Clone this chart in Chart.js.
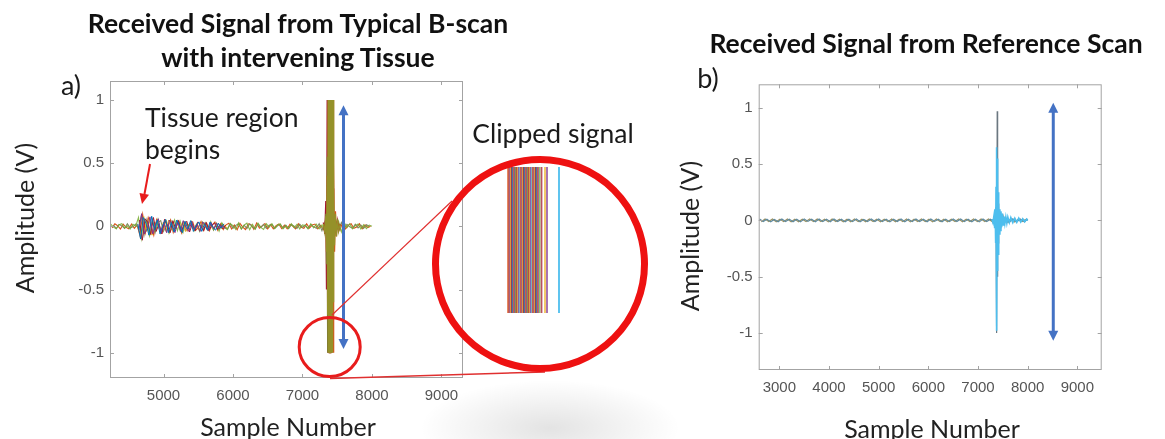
<!DOCTYPE html>
<html>
<head>
<meta charset="utf-8">
<script src="https://cdn.jsdelivr.net/npm/chart.js@4.4.1/dist/chart.umd.min.js"></script>
<style>
  html, body { margin: 0; padding: 0; background: #fff; }
  body { width: 1165px; height: 439px; position: relative; overflow: hidden; font-family: Lato, "Open Sans", sans-serif; }
  canvas { position: absolute; }
  .t { position: absolute; white-space: nowrap; color: #1a1a1a; transform: translate(-50%, -50%); line-height: 1; }
  .l { position: absolute; white-space: nowrap; color: #1a1a1a; line-height: 1; transform: translateY(-50%); }
  .title { font-weight: 700; font-size: 26.5px; color: #111; }
  .ax { font-size: 25px; color: #222; }
  .rot { transform: translate(-50%, -50%) rotate(-90deg); }
  #shade { position: absolute; left: 400px; top: 370px; width: 300px; height: 110px;
           background: radial-gradient(ellipse 130px 48px at 150px 58px, rgba(0,0,0,0.11), rgba(0,0,0,0) 100%); }
  svg { position: absolute; left: 0; top: 0; }
</style>
</head>
<body>
<div id="shade"></div>
<canvas id="scanA" width="480" height="439" style="left:0;top:0"></canvas>
<canvas id="scanB" width="515" height="439" style="left:650px;top:0"></canvas>
<canvas id="clipView" width="80" height="170" style="left:495px;top:160px"></canvas>

<svg width="1165" height="439" viewBox="0 0 1165 439">
  <!-- magnifier: small ring on the clipped burst, lines to the enlarged view -->
  <line x1="332" y1="315" x2="452" y2="201" stroke="#e03030" stroke-width="1.2"/>
  <line x1="330" y1="378.5" x2="545" y2="372" stroke="#e03030" stroke-width="1.5"/>
  <ellipse cx="329.7" cy="347" rx="30.5" ry="29.5" fill="none" stroke="#e81c1c" stroke-width="3"/>
  <circle cx="540" cy="264" r="104.5" fill="none" stroke="#ee1111" stroke-width="7"/>
  <!-- pointer to the start of the tissue echoes -->
  <line x1="150" y1="164" x2="144.5" y2="194" stroke="#e81c1c" stroke-width="2"/>
  <polygon points="142,204 139.5,193 149,194.8" fill="#e81c1c"/>
</svg>

<div class="t title" style="left:298px;top:23px">Received Signal from Typical B-scan</div>
<div class="t title" style="left:298px;top:57px">with intervening Tissue</div>
<div class="t title" style="left:926px;top:43px">Received Signal from Reference Scan</div>
<div class="t" style="left:71px;top:84px;font-size:27px">a)</div>
<div class="t" style="left:708px;top:77px;font-size:27px">b)</div>
<div class="t ax rot" style="left:24px;top:218px">Amplitude (V)</div>
<div class="t ax" style="left:288px;top:426px">Sample Number</div>
<div class="t ax rot" style="left:689px;top:236px">Amplitude (V)</div>
<div class="t ax" style="left:932px;top:428px">Sample Number</div>
<div class="l" style="left:145px;top:117px;font-size:26.5px">Tissue region</div>
<div class="l" style="left:145px;top:149px;font-size:26.5px">begins</div>
<div class="t" style="left:553px;top:133px;font-size:26.5px">Clipped signal</div>

<script>
// ---------- axis ticks ----------
const ampTicks = [-1, -0.5, 0, 0.5, 1];
const sampleTicksA = [5000, 6000, 7000, 8000, 9000];
const sampleTicksB = [3000, 4000, 5000, 6000, 7000, 8000, 9000];

// ---------- (a) B-scan with tissue: A-lines on a regular sample grid ----------
const tissueGridStep = 40;
const greenStart = 4240;
const greenTrace = [
  0.018,-0.006,-0.02,0.013,0.021,-0.015,0.004,-0.022,0.016,0.002,
  0.07,-0.095,
  0.06,0.02,-0.075,0.05,
  -0.03,0.055,-0.05,0.01,0.045,-0.055,-0.02,0.05,-0.035,0.04,-0.05,
  0.03,-0.01,0.038,-0.036,0.012,-0.04,0.035,0.005,-0.03,0.036,-0.025,0.02,-0.038,
  0.027,-0.01,-0.026,0.022,0.005,-0.024,0.027,-0.02,0.01,0.025,-0.026,0.015,-0.022,0.026,-0.008,-0.024,0.02,
  -0.006,0.02,-0.018,0.01,0.019,-0.02,0.004,-0.017,0.02,-0.01,0.016,-0.02,0.012,0.004,-0.019,0.02,-0.012,0.017,-0.02,0.01,-0.03,
  0.05,
  -0.08,0.07,-0.06,
  0.04,-0.045,0.03,
  -0.01,0.021,-0.02,0.006,0.019,-0.02,0.012,-0.018,0.01,0.0
];
const orangeStart = 4260;
const orangeTrace = [
  -0.012,0.02,0.005,-0.021,0.017,-0.008,-0.02,0.019,-0.015,0.01,
  -0.07,0.095,
  -0.05,0.07,0.01,-0.07,
  0.052,-0.02,-0.05,0.045,-0.01,0.05,-0.048,0.02,0.045,-0.05,0.03,
  -0.035,0.02,0.036,-0.032,-0.01,0.038,-0.033,0.025,-0.036,0.01,0.034,-0.03,0.02,
  -0.026,0.012,0.025,-0.02,0.01,-0.027,0.024,-0.006,-0.025,0.02,0.012,-0.024,0.026,-0.015,0.004,0.022,-0.02,
  0.015,-0.02,0.006,0.018,-0.017,0.01,-0.02,0.017,0.002,-0.019,0.02,-0.008,-0.016,0.02,-0.014,0.01,0.018,-0.02,0.008,-0.025,0.04,
  -0.09,0.07,-0.065,
  0.05,-0.03,0.035,
  -0.02,0.01,0.02,-0.016,-0.006,0.02,-0.019,0.012,-0.01,0.0
];
const greyStart = 4280;
const greyTrace = [
  0.01,-0.018,0.015,0.004,-0.016,0.02,-0.012,-0.004,0.018,-0.017,
  0.08,-0.07,0.05,-0.06,
  0.04,-0.05,0.03,0.045,-0.04,0.012,-0.045,0.04,-0.02,0.042,-0.035,
  0.03,-0.032,0.008,0.03,-0.028,0.02,-0.032,0.006,0.03,-0.028,0.015,-0.03,0.025,
  -0.02,0.022,-0.005,-0.02,0.021,-0.016,0.008,0.02,-0.021,0.01,-0.018,0.02,-0.004,-0.02,0.018,-0.01,0.015,
  -0.016,0.008,0.015,-0.017,0.004,0.016,-0.015,0.01,-0.017,0.014,0.002,-0.016,0.017,-0.009,0.012,-0.017,0.015,-0.004,-0.015,0.02,-0.035,
  0.03,-0.06,0.07,-0.05,
  0.04,-0.035,0.03,
  -0.015,0.016,-0.004,-0.015,0.017,-0.012,0.01,-0.016,0.012,0
];
// echoes from the tissue layers, 4600-5900
const blueStart = 4630;
const blueTrace = [0.02,-0.1,0.07,0.02,-0.07,0.08,-0.03,0.05,-0.06,0.01,0.055,-0.05,0.03,-0.045,0.05,0.01,
  -0.05,0.04,-0.02,0.045,-0.04,0.01,0.035,-0.04,0.02,-0.03,0.035,-0.01,-0.03,0.025,-0.015,0.02];
const purpleStart = 4645;
const purpleTrace = [-0.03,0.1,-0.06,-0.02,0.075,-0.06,0.02,0.06,-0.055,0.03,-0.05,0.05,0.01,-0.05,0.04,-0.035,
  0.045,-0.01,-0.04,0.04,-0.03,0.015,-0.04,0.035,0.005,-0.035,0.03,-0.02,0.025,-0.02,0.01,-0.018];
const redStart = 4655;
const redTrace = [0.05,-0.11,0.06,0.03,-0.065,0.07,-0.04,0.02,-0.06,0.055,0.01,-0.05,0.045,-0.02,0.045,-0.045,
  0.01,0.04,-0.045,0.02,-0.035,0.035,0.005,-0.035,0.03,-0.03,0.01,0.025,-0.025,0.015,-0.02,0.01];
const yellowStart = 4675;
const yellowTrace = [-0.06,0.08,-0.04,0.06,-0.07,0.02,0.05,-0.055,0.03,-0.04,0.05,0.005,-0.045,0.04,-0.02,0.035,
  -0.04,0.01,0.035,-0.035,0.02,-0.03,0.028,0.004,-0.028,0.025,-0.02,0.01,0.02,-0.018,0.012,-0.015];

// reflector echo, saturating at +/-1 V
const burstSamples = [7300,7320,7335,7345,7355,7362,7368,7374,7380,7386,7392,7398,7404,7410,7416,7422,7428,7434,7440,
  7446,7452,7462,7475,7490,7505,7520,7540];
const burstOlive  = [0.02,-0.05,0.1,-0.3,0.55,-1,1,-1,1,-1,1,-1,1,-1,1,-1,1,-1,1,-0.6,0.3,-0.15,0.1,-0.08,0.06,-0.04,0.02];
const burstOrange = [0.02,-0.04,0.08,-0.2,0.4,-0.7,1,-1,1,-1,1,-1,1,-1,1,-1,1,-1,1,-1,0.5,-0.2,0.12,-0.08,0.05,-0.035,0.02];
const burstRed    = [0.03,-0.06,0.2,-0.5,1,-1,1,-1,1,-1,1,-1,1,-1,1,-1,0.8,-0.5,0.3,-0.15,0.1,-0.08,0.06,-0.05,0.04,-0.03,0.02];

// ---------- (b) reference scan ----------
const refGridStep = 75;
const refStartA = 2600;
const refNoiseA = [0.012,-0.01,0.011,-0.013,0.009,-0.012,0.013,-0.01,0.011,-0.012,0.01,-0.013,0.012,-0.009,0.011,-0.012,
  0.013,-0.011,0.01,-0.012,0.012,-0.01,0.011,-0.013,0.01,-0.011,0.012,-0.012,0.009,-0.011,0.013,-0.01,0.012,-0.011,
  0.01,-0.013,0.011,-0.01,0.012,-0.012,0.01,-0.011,0.013,-0.01,0.011,-0.012,0.012,-0.009,0.01,-0.012,0.011,-0.011,
  0.013,-0.01,0.012,-0.011,0.01,-0.012,0.011,-0.013,0.012,-0.01,0.011,-0.012,0.015,-0.02,0.025,-0.02,0.015,-0.014,0.012,-0.011,0.01];
const refStartB = 2637;
const refNoiseB = [-0.011,0.012,-0.01,0.013,-0.012,0.01,-0.011,0.012,-0.013,0.01,-0.012,0.011,-0.01,0.013,-0.011,0.012,
  -0.01,0.011,-0.013,0.012,-0.01,0.011,-0.012,0.01,-0.013,0.012,-0.011,0.01,-0.012,0.013,-0.01,0.011,-0.012,0.01,
  -0.011,0.013,-0.012,0.01,-0.011,0.012,-0.013,0.011,-0.01,0.012,-0.011,0.01,-0.013,0.012,-0.011,0.01,-0.012,0.011,
  -0.01,0.013,-0.012,0.011,-0.01,0.012,-0.011,0.013,-0.01,0.012,-0.011,0.014,-0.02,0.022,-0.018,0.015,-0.013,0.011,-0.01,0.009];
const refSpikeSamples = [7280,7300,7320,7335,7345,7355,7362,7368,7374,7380,7386,7392,7398,7404,7410,7416,7422,7430,7440,
  7450,7462,7475,7490,7505,7520,7540,7560,7580,7600,7630,7660,7700,7740,7780,7820,7860,7900,7940,7980,8000];
const refSpikeCyan = [0.01,-0.02,0.04,-0.07,0.1,-0.2,0.3,-0.4,0.65,-0.98,0.55,-0.45,0.35,-0.3,0.25,-0.2,0.15,-0.12,0.1,
  -0.09,0.08,-0.06,0.06,-0.04,0.035,-0.03,0.03,-0.025,0.03,-0.02,0.025,-0.02,0.02,-0.018,0.02,-0.015,0.015,-0.012,0.012,0];
const refSpikeGray = [0.01,-0.015,0.02,-0.03,0.05,-0.08,0.12,-0.2,0.4,-1.0,0.97,-0.5,0.3,-0.2,0.15,-0.1,0.08,-0.06,0.05,
  -0.04,0.03,-0.03,0.025,-0.02,0.02,-0.015,0.015,-0.012,0.012,-0.01,0.012,-0.01,0.01,-0.01,0.012,-0.01,0.01,-0.01,0.01,0];

// ---------- enlarged view: sample positions where individual A-lines clip at -1 V ----------
const clipSamples = [7362,7364,7366,7368,7370,7372,7374,7376,7378,7380,7382,7384,7386,7388,7390,7392,7394,7396,7398,
  7400,7402,7404,7406,7408,7410,7412,7414,7416,7418,7420,7422,7425,7429,7436,7440,7464];

// ---------- helpers ----------
const C = { blue:'#0072BD', orange:'#D95319', yellow:'#EDB120', purple:'#7E2F8E', green:'#77AC30', cyan:'#4DBEEE', red:'#A2142F' };
const onGrid = (start, step, vals) => vals.map((v, i) => ({ x: start + step * i, y: v }));
const paired = (xs, ys) => ys.map((v, i) => ({ x: xs[i], y: v }));
const trace = (data, color, width) => ({ data, borderColor: color, borderWidth: width || 1, pointRadius: 0, tension: 0, fill: false });
const fade = (hex, a) => 'rgba(' + [1, 3, 5].map(k => parseInt(hex.substr(k, 2), 16)).join(',') + ',' + a + ')';

const tickFont = { family: '"Liberation Sans", Arial, sans-serif', size: 15 };

function frameAndArrow(arrow) {
  return {
    id: 'frameAndArrow',
    afterDatasetsDraw(chart) {
      const { ctx, chartArea: a, scales: { x, y } } = chart;
      ctx.save();
      // box with inward ticks on all four sides
      ctx.strokeStyle = '#a3a3a3';
      ctx.lineWidth = 1;
      ctx.strokeRect(a.left + 0.5, a.top + 0.5, a.right - a.left - 1, a.bottom - a.top - 1);
      ctx.beginPath();
      x.ticks.forEach(t => {
        const p = Math.round(x.getPixelForValue(t.value)) + 0.5;
        ctx.moveTo(p, a.bottom); ctx.lineTo(p, a.bottom - 4);
        ctx.moveTo(p, a.top); ctx.lineTo(p, a.top + 4);
      });
      y.ticks.forEach(t => {
        const p = Math.round(y.getPixelForValue(t.value)) + 0.5;
        ctx.moveTo(a.left, p); ctx.lineTo(a.left + 4, p);
        ctx.moveTo(a.right, p); ctx.lineTo(a.right - 4, p);
      });
      ctx.stroke();
      // double-headed amplitude-span arrow
      const ax = x.getPixelForValue(arrow.sample);
      const yt = y.getPixelForValue(arrow.top);
      const yb = y.getPixelForValue(arrow.bottom);
      ctx.strokeStyle = '#4472C4';
      ctx.fillStyle = '#4472C4';
      ctx.lineWidth = 3;
      ctx.beginPath(); ctx.moveTo(ax, yt + 8); ctx.lineTo(ax, yb - 8); ctx.stroke();
      ctx.beginPath(); ctx.moveTo(ax, yt); ctx.lineTo(ax - 5, yt + 10); ctx.lineTo(ax + 5, yt + 10); ctx.closePath(); ctx.fill();
      ctx.beginPath(); ctx.moveTo(ax, yb); ctx.lineTo(ax - 5, yb - 10); ctx.lineTo(ax + 5, yb - 10); ctx.closePath(); ctx.fill();
      ctx.restore();
    }
  };
}

function makeScales(xr, yr, xTicks, yAxisWidth, xAxisHeight) {
  return {
    x: {
      type: 'linear', min: xr[0], max: xr[1],
      grid: { display: false, drawTicks: false }, border: { display: false },
      ticks: { includeBounds: false, autoSkip: false, maxRotation: 0, padding: 9, color: '#555', font: tickFont,
               callback: v => String(v) },
      afterBuildTicks: s => { s.ticks = xTicks.map(v => ({ value: v })); },
      afterFit: s => { s.height = xAxisHeight; }
    },
    y: {
      type: 'linear', min: yr[0], max: yr[1],
      grid: { display: false, drawTicks: false }, border: { display: false },
      ticks: { includeBounds: false, autoSkip: false, padding: 6, color: '#555', font: tickFont,
               callback: v => String(v) },
      afterBuildTicks: s => { s.ticks = ampTicks.map(v => ({ value: v })); },
      afterFit: s => { s.width = yAxisWidth; }
    }
  };
}

const common = {
  responsive: false, animation: false, events: [],
  plugins: { legend: { display: false }, tooltip: { enabled: false } },
  elements: { line: { borderCapStyle: 'butt', borderJoinStyle: 'miter' } }
};

// (a) B-scan through tissue
new Chart(document.getElementById('scanA'), {
  type: 'line',
  data: { datasets: [
    trace(paired(burstSamples, burstOlive), fade(C.green, 0.7), 1.2),
    trace(paired(burstSamples, burstOrange), C.orange, 1.2),
    trace(paired(burstSamples, burstRed), C.red, 1.2),
    trace(onGrid(blueStart, tissueGridStep, blueTrace), C.blue),
    trace(onGrid(purpleStart, tissueGridStep, purpleTrace), C.purple),
    trace(onGrid(redStart, tissueGridStep, redTrace), C.red),
    trace(onGrid(yellowStart, tissueGridStep, yellowTrace), C.yellow),
    trace(onGrid(greenStart, tissueGridStep, greenTrace), fade(C.green, 0.85), 1.1),
    trace(onGrid(greyStart, tissueGridStep, greyTrace), '#808a60', 1.1),
    trace(onGrid(orangeStart, tissueGridStep, orangeTrace), C.orange, 1.1)
  ]},
  options: Object.assign({}, common, {
    layout: { padding: { left: 0, top: 81, right: 17, bottom: 0 } },
    scales: makeScales([4230, 9310], [-1.2, 1.15], sampleTicksA, 110, 61)
  }),
  plugins: [frameAndArrow({ sample: 7590, top: 0.958, bottom: -0.971 })]
});

// (b) reference scan
new Chart(document.getElementById('scanB'), {
  type: 'line',
  data: { datasets: [
    trace(paired(refSpikeSamples, refSpikeCyan), C.cyan, 1.6),
    trace(paired(refSpikeSamples, refSpikeGray), '#6b7780', 1.2),
    trace(onGrid(refStartA, refGridStep, refNoiseA), '#5f8aa0', 1.2),
    trace(onGrid(refStartB, refGridStep, refNoiseB), '#9a9060', 1.2)
  ]},
  options: Object.assign({}, common, {
    layout: { padding: { left: 0, top: 84.3, right: 63.3, bottom: 0 } },
    scales: makeScales([2584, 9490], [-1.33, 1.21], sampleTicksB, 108.7, 69)
  }),
  plugins: [frameAndArrow({ sample: 8515, top: 1.046, bottom: -1.07 })]
});

// enlarged view of the clipped A-lines
const palette = [C.orange, C.purple, C.yellow, C.red, C.blue, C.orange, C.purple, C.green, C.red, C.yellow, C.purple, C.cyan];
new Chart(document.getElementById('clipView'), {
  type: 'line',
  data: { datasets: clipSamples.map((s, i) => trace([{ x: s, y: -1 }, { x: s, y: 1 }],
           i === clipSamples.length - 1 ? C.cyan : fade(palette[i % palette.length], 0.75), 1.8)) },
  options: Object.assign({}, common, {
    layout: { padding: { left: 5, top: 7, right: 10, bottom: 7 } },
    scales: {
      x: { type: 'linear', display: false, min: 7346, max: 7476 },
      y: { type: 'linear', display: false, min: -1.07, max: 0.02 }
    }
  })
});
</script>
</body>
</html>
